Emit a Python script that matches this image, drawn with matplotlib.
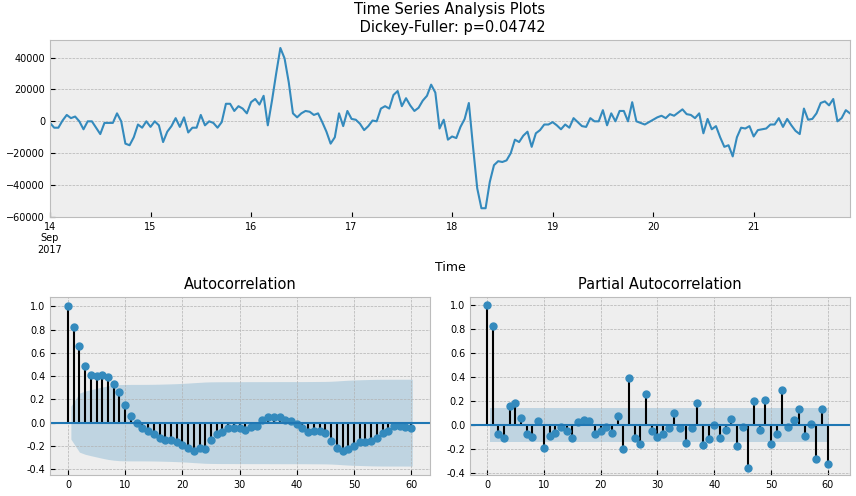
import matplotlib
matplotlib.use("Agg")
import matplotlib.pyplot as plt
import numpy as np
import pandas as pd

values = [
 -1000,-4000,-4000,500,4000,2000,3000,0,-5000,0,0,-4000,-8000,-1000,-1000,-1000,5000,0,-14000,-15000,-10000,-2000,-4000,0,
 -3500,0,-2500,-13000,-6500,-3000,2000,-3500,2500,-7000,-4000,-4000,4000,-2500,0,-1000,-4000,-500,11000,11000,6500,9500,8000,5000,
 12000,14000,10500,16000,-2500,13000,30000,46000,39500,24500,5000,2500,5000,6500,6000,4000,5000,-500,-6500,-14000,-10000,5000,-3000,6500,
 1500,1000,-1500,-5500,-3000,500,0,8000,9500,8000,16500,19000,9500,14500,10000,6500,8500,13000,16000,23000,18000,-4500,1000,-11500,
 -9500,-10500,-3500,1500,11500,-16000,-42000,-54500,-54500,-38000,-27500,-25000,-25500,-24500,-20000,-11500,-13000,-9000,-6500,-16000,-7500,-5500,-2000,-2000,
 -500,-2500,-5000,-2000,-4000,2000,-500,-3000,-3500,2000,0,0,7000,-2500,5000,0,6500,6500,0,12000,0,-1000,-2000,-500,
 1000,2500,3500,2000,4500,3500,5500,7500,4500,4000,2000,5000,-7500,1500,-5000,-3000,-10000,-16000,-15000,-22000,-10000,-4000,-4500,-3000,
 -9500,-5500,-5000,-4500,-2000,-2000,2000,-3500,1500,-2500,-6000,-8000,8000,1000,1500,5000,11500,12500,10000,14000,0,2000,7000,5000]
acf_vals = [1.0,0.82,0.66,0.49,0.41,0.40,0.41,0.39,0.33,0.26,0.15,0.06,0.00,-0.05,-0.07,-0.10,-0.13,-0.15,-0.15,-0.17,
 -0.19,-0.22,-0.24,-0.22,-0.23,-0.15,-0.10,-0.08,-0.05,-0.05,-0.05,-0.06,-0.04,-0.03,0.02,0.05,0.05,0.05,0.02,0.01,
 -0.01,-0.05,-0.08,-0.07,-0.07,-0.09,-0.16,-0.22,-0.24,-0.23,-0.20,-0.17,-0.17,-0.16,-0.13,-0.09,-0.07,-0.03,-0.03,-0.04,-0.05]
pacf_vals = [1.0,0.83,-0.08,-0.11,0.16,0.18,0.06,-0.08,-0.10,0.03,-0.19,-0.09,-0.07,-0.02,-0.05,-0.11,0.02,0.04,0.03,-0.08,
 -0.05,-0.02,-0.07,0.07,-0.20,0.39,-0.11,-0.16,0.26,-0.05,-0.10,-0.08,-0.03,0.10,-0.03,-0.15,-0.03,0.18,-0.17,-0.12,
 0.00,-0.11,-0.04,0.05,-0.18,-0.02,-0.36,0.20,-0.04,0.21,-0.16,-0.08,0.29,-0.02,0.04,0.13,-0.09,0.01,-0.29,0.13,-0.33]
day_labels = ["14\nSep\n2017","15","16","17","18","19","20","21"]

plt.style.use("bmh")
fig = plt.figure(figsize=(8.56,4.96), dpi=100)
ax = fig.add_axes([50/856, 1-217/496, 800/856, 177/496])
a1 = fig.add_axes([50/856, 1-475/496, 380/856, 178/496])
a2 = fig.add_axes([470/856, 1-475/496, 380/856, 178/496])

t = pd.date_range("2017-09-14", periods=len(values), freq="h")
ax.plot(t, values, color="#348ABD", lw=1.5)
ax.set_xlim(t[0], t[-1])
ax.set_ylim(-60000, 51000)
ax.set_yticks(range(-60000, 40001, 20000))
days = pd.date_range("2017-09-14", periods=8, freq="D")
ax.set_xticks(days)
ax.set_xticklabels(day_labels, ha="center")
ax.grid(axis="x", visible=False)
ax.set_xlabel("Time", fontsize=9)
ax.set_title("Time Series Analysis Plots\n Dickey-Fuller: p=0.04742", fontsize=10.5)
ax.tick_params(labelsize=7)

n = len(values)
def draw(a, vals, band, title, xlim):
    lags = np.arange(len(vals))
    a.vlines(lags, 0, vals, colors="black", lw=1.5)
    a.plot(lags, vals, "o", color="#348ABD", ms=5)
    a.axhline(0, color="#1f77b4", lw=1.5)
    bl = lags[1:].astype(float); bl[0] -= 0.5; bl[-1] += 0.2
    a.fill_between(bl, -band[1:], band[1:], color="#348ABD", alpha=0.25, lw=0)
    a.set_title(title, fontsize=10.5)
    a.set_xlim(*xlim)
    a.set_xticks(range(0, 61, 10))
    a.set_yticks(np.arange(-0.4, 1.01, 0.2))
    a.yaxis.set_major_formatter(matplotlib.ticker.FormatStrFormatter("%.1f"))
    a.tick_params(labelsize=7)

r = np.array(acf_vals)
acf_band = 1.96*np.sqrt((1 + 2*np.concatenate([[0], np.cumsum(r[1:]**2)]))/n)
acf_band[1] = 1.96/np.sqrt(n)
draw(a1, acf_vals, acf_band, "Autocorrelation", (-3.15, 63.3))
a1.set_ylim(-0.45, 1.08)
draw(a2, pacf_vals, np.full(len(pacf_vals), 1.96/np.sqrt(n)), "Partial Autocorrelation", (-3.0, 63.9))
a2.set_ylim(-0.42, 1.07)
fig.savefig("out.png", dpi=100)
